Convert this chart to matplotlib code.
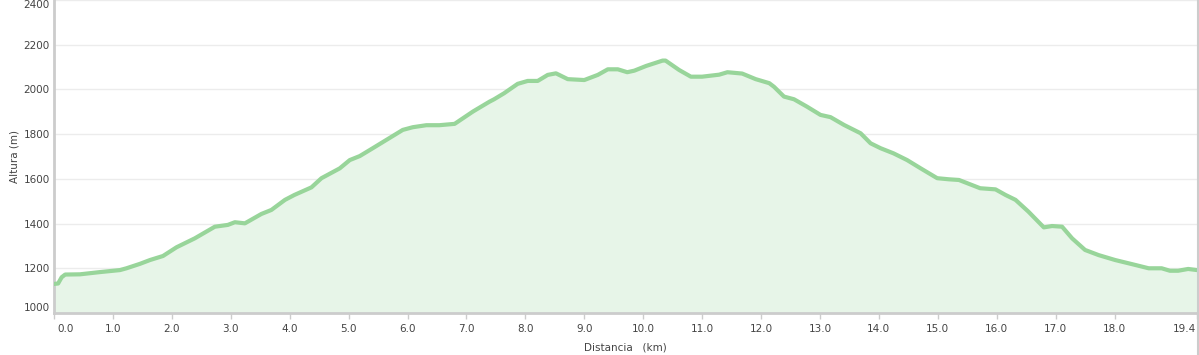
import matplotlib
matplotlib.use("Agg")
import matplotlib.pyplot as plt
from matplotlib.lines import Line2D
import matplotlib.transforms as mtransforms

distance_km = [0.0, 0.07, 0.13, 0.19, 0.44, 0.78, 1.12, 1.23, 1.46, 1.63, 1.85, 2.08,
               2.39, 2.73, 2.95, 3.07, 3.24, 3.52, 3.69, 3.92, 4.08, 4.37, 4.54, 4.85,
               5.02, 5.19, 5.41, 5.69, 5.92, 6.09, 6.32, 6.54, 6.80, 7.11, 7.39, 7.47,
               7.64, 7.87, 8.04, 8.21, 8.38, 8.52, 8.72, 9.00, 9.23, 9.40, 9.57, 9.73,
               9.85, 10.05, 10.33, 10.38, 10.61, 10.81, 11.00, 11.29, 11.43, 11.68, 11.91,
               12.14, 12.22, 12.39, 12.56, 12.78, 13.01, 13.18, 13.41, 13.69, 13.86, 14.03,
               14.25, 14.48, 14.71, 14.99, 15.19, 15.36, 15.72, 15.98, 16.15, 16.32, 16.54,
               16.80, 16.94, 17.11, 17.28, 17.50, 17.73, 18.01, 18.29, 18.58, 18.80, 18.94,
               19.08, 19.25, 19.40]
altitude_m = [1130, 1132, 1160, 1172, 1173, 1183, 1192, 1200, 1220, 1237, 1255, 1294,
              1334, 1386, 1394, 1406, 1401, 1443, 1461, 1506, 1528, 1562, 1603, 1647,
              1684, 1702, 1737, 1782, 1819, 1831, 1840, 1840, 1846, 1901, 1945, 1956,
              1983, 2025, 2038, 2038, 2065, 2072, 2046, 2042, 2065, 2090, 2090, 2077,
              2084, 2105, 2129, 2129, 2087, 2057, 2057, 2066, 2077, 2071, 2046,
              2028, 2012, 1968, 1956, 1923, 1886, 1876, 1841, 1804, 1759, 1737,
              1714, 1684, 1647, 1603, 1598, 1595, 1558, 1553, 1528, 1506, 1453,
              1383, 1389, 1386, 1334, 1282, 1259, 1237, 1219, 1200, 1200, 1189,
              1189, 1197, 1192]

x_ticks = [0, 1, 2, 3, 4, 5, 6, 7, 8, 9, 10, 11, 12, 13, 14, 15, 16, 17, 18, 19.4]
x_tick_labels = ["0.0", "1.0", "2.0", "3.0", "4.0", "5.0", "6.0", "7.0", "8.0", "9.0",
                 "10.0", "11.0", "12.0", "13.0", "14.0", "15.0", "16.0", "17.0", "18.0", "19.4"]
y_ticks = [1000, 1200, 1400, 1600, 1800, 2000, 2200, 2400]
y_tick_labels = [str(v) for v in y_ticks]

line_color = "#98d59a"
fill_color = "#e7f5e8"
text_color = "#444444"
axis_color = "#cccccc"

fig = plt.figure(figsize=(11.99, 3.55), dpi=100)
ax = fig.add_axes([54 / 1199, 42 / 355, 1143 / 1199, 313 / 355])

ax.fill_between(distance_km, altitude_m, 1000, color=fill_color, linewidth=0, zorder=1)
ax.plot(distance_km, altitude_m, color=line_color, linewidth=3.0, solid_joinstyle="round",
        solid_capstyle="round", zorder=3)

ax.set_xlim(0, 19.4)
ax.set_ylim(1000, 2400)

ax.set_yticks(y_ticks)
ax.set_yticklabels(y_tick_labels)
ax.set_xticks(x_ticks)
ax.set_xticklabels(x_tick_labels)

ax.grid(axis="y", color="#ececec", linewidth=1.0, zorder=0)
ax.set_axisbelow(True)

for s in ["top", "right"]:
    ax.spines[s].set_visible(False)
ax.spines["left"].set_color(axis_color)
ax.spines["left"].set_linewidth(2)
ax.spines["bottom"].set_color(axis_color)
ax.spines["bottom"].set_linewidth(2)

ax.tick_params(axis="y", length=0, pad=3, labelsize=7.5, labelcolor=text_color)
ax.tick_params(axis="x", length=4, width=1, color=axis_color, pad=4,
               labelsize=7.5, labelcolor=text_color)

ylabels = ax.get_yticklabels()
ylabels[0].set_verticalalignment("bottom")
ylabels[-1].set_verticalalignment("top")

xlabels = ax.get_xticklabels()
xlabels[0].set_horizontalalignment("left")
xlabels[0].set_transform(xlabels[0].get_transform() +
                         mtransforms.ScaledTranslation(3 / 100, 0, fig.dpi_scale_trans))
xlabels[-1].set_horizontalalignment("right")
xlabels[-1].set_transform(xlabels[-1].get_transform() +
                          mtransforms.ScaledTranslation(-1 / 100, 0, fig.dpi_scale_trans))

ax.set_ylabel("Altura (m)", fontsize=7.5, color=text_color, labelpad=3)
ax.set_xlabel("Distancia   (km)", fontsize=7.5, color=text_color, labelpad=6)

fig.add_artist(Line2D([1198 / 1199, 1198 / 1199], [0, 1], color=axis_color,
                      linewidth=1.5, transform=fig.transFigure))

fig.savefig("out.png", dpi=100)
